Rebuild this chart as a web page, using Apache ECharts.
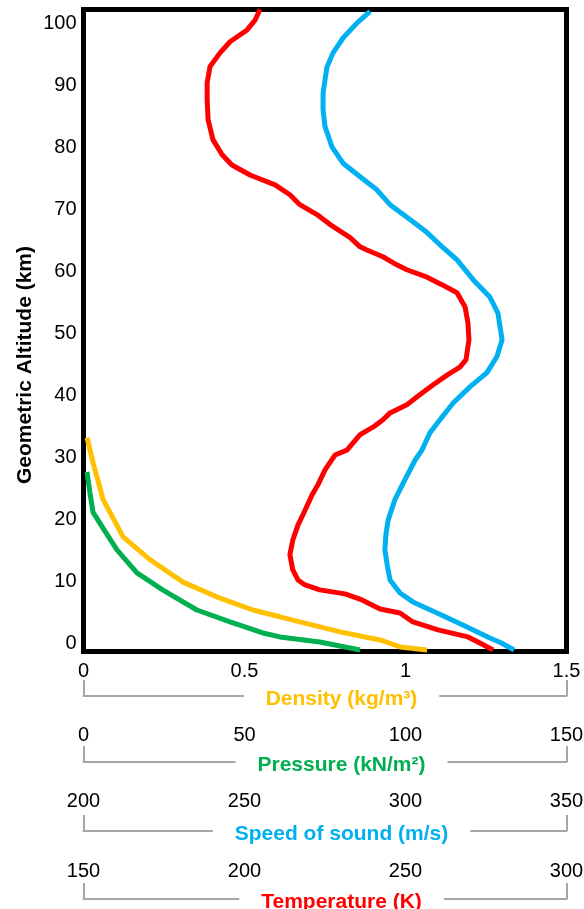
<!DOCTYPE html>
<html>
<head>
<meta charset="utf-8">
<script src="https://cdn.jsdelivr.net/npm/echarts@6/dist/echarts.min.js"></script>
<style>
  html, body { margin: 0; padding: 0; background: #fff; }
  #chart { width: 584px; height: 909px; }
</style>
</head>
<body>
<div id="chart"></div>
<script>
// ---- Data ----
// Temperature (K) vs altitude (km)
const tempAlt = [-1.05, 0.08, 1.05, 2.18, 3.47, 4.92, 5.57, 7.02, 8.0, 8.64, 9.44, 10.25, 11.86, 14.3, 16.7, 19.1, 21.5, 24.0, 25.6, 28.0, 30.4, 31.2, 33.7, 34.9, 36.1, 37.2, 38.5, 39.8, 41.7, 43.3, 44.6, 45.8, 49.0, 51.7, 54.3, 56.6, 57.9, 59.1, 60.3, 61.1, 62.4, 63.5, 64.0, 65.5, 67.6, 69.2, 70.8, 72.4, 74.0, 75.6, 77.2, 78.9, 81.3, 84.5, 87.7, 90.5, 93.1, 95.3, 97.1, 99.0, 100.6, 102.3];
const tempK = [277.2, 273.1, 269.4, 260.1, 252.3, 248.3, 242.1, 236.5, 231.2, 223.4, 218.8, 216.6, 215.0, 214.1, 215.0, 216.6, 218.8, 221.0, 222.8, 225.0, 228.1, 231.8, 235.9, 239.9, 243.0, 245.2, 250.4, 253.6, 258.5, 262.9, 266.9, 268.8, 269.7, 269.4, 268.5, 266.0, 261.3, 256.7, 250.4, 247.3, 243.0, 238.0, 235.9, 232.8, 226.6, 222.5, 217.2, 214.1, 209.5, 201.7, 196.1, 193.0, 190.2, 188.7, 188.4, 188.4, 189.3, 192.4, 195.5, 200.8, 203.3, 204.8];

// Speed of sound (m/s) vs altitude (km)
const soundAlt = [-1.05, 0.08, 0.89, 2.99, 4.92, 6.7, 8.15, 10.25, 12.7, 15.1, 17.5, 19.9, 23.2, 26.4, 29.6, 31.2, 34.0, 36.1, 38.8, 41.4, 43.7, 46.3, 49.0, 53.3, 55.9, 58.7, 61.9, 63.9, 66.3, 68.4, 70.8, 73.2, 75.3, 77.5, 80.1, 83.4, 86.1, 88.8, 93.0, 95.3, 97.7, 100.1, 102.0];
const soundMs = [333.7, 329.8, 326.2, 317.8, 309.8, 302.3, 298.3, 295.2, 294.3, 293.6, 293.9, 294.6, 296.7, 299.8, 303.0, 305.1, 307.6, 310.7, 314.8, 320.0, 325.3, 328.4, 330.0, 328.7, 326.2, 321.0, 316.0, 311.6, 306.7, 301.4, 295.2, 291.1, 285.9, 280.6, 277.2, 275.0, 274.4, 274.4, 275.6, 277.5, 280.6, 284.9, 289.0];

// Pressure (kN/m2) vs altitude (km)
const pressAlt = [-1.05, 0.24, 1.05, 1.69, 3.47, 5.4, 8.6, 11.4, 15.1, 18.6, 21.2, 24.3, 27.7];
const pressKN = [85.9, 73.4, 61.0, 55.7, 45.5, 35.2, 24.7, 16.6, 10.4, 6.06, 2.95, 2.0, 1.09];

// Density (kg/m3) vs altitude (km)
const densAlt = [-1.05, -0.56, 0.56, 0.89, 1.86, 3.47, 4.3, 5.4, 7.3, 9.9, 13.5, 17.2, 23.2, 29.1, 33.2];
const densKg = [1.067, 0.983, 0.921, 0.890, 0.797, 0.672, 0.610, 0.526, 0.424, 0.309, 0.207, 0.123, 0.061, 0.030, 0.011];

// Axis ticks
const altTicks = [0, 10, 20, 30, 40, 50, 60, 70, 80, 90, 100];

const FONT = 'Liberation Sans, Arial, Helvetica, sans-serif';
const pairs = (xs, ys) => xs.map((v, i) => [v, ys[i]]);

// Axis carrying the scale, the grey bracket and the tick labels
function scaleAxis(min, max, interval, offset, margin) {
  return {
    type: 'value', position: 'bottom', gridIndex: 0, z: 0,
    min: min, max: max, interval: interval, offset: offset,
    splitLine: { show: false },
    axisLine: { show: true, onZero: false, lineStyle: { color: '#a6a6a6', width: 2 } },
    axisTick: { show: true, inside: true, length: 16, customValues: [min, max], lineStyle: { color: '#a6a6a6', width: 2 } },
    axisLabel: { show: true, inside: true, margin: margin, color: '#000', fontSize: 20, fontFamily: FONT, showMinLabel: true, showMaxLabel: true }
  };
}

// Twin axis drawn above it, carrying only the coloured title (its white box cuts the bracket)
function titleAxis(min, max, offset, title, color) {
  return {
    type: 'value', position: 'bottom', gridIndex: 0, z: 6,
    min: min, max: max, offset: offset,
    splitLine: { show: false },
    axisLine: { show: false, onZero: false },
    axisTick: { show: false },
    axisLabel: { show: false },
    name: '{p| }{t|' + title + '}',
    nameLocation: 'middle',
    nameGap: -9,
    nameMoveOverlap: false,
    nameTextStyle: {
      fontFamily: FONT,
      rich: {
        p: { width: 33, fontSize: 21, fontFamily: FONT },
        t: { color: color, fontSize: 21, fontWeight: 'bold', fontFamily: FONT, backgroundColor: '#fff', padding: [2, 22] }
      }
    }
  };
}

const chart = echarts.init(document.getElementById('chart'), null, { renderer: 'canvas' });
chart.setOption({
  animation: false,
  backgroundColor: '#fff',
  textStyle: { fontFamily: FONT },
  grid: {
    left: 83.5, top: 9.5, right: 17.5, bottom: 257.5,
    show: true, borderColor: '#000', borderWidth: 5, backgroundColor: 'transparent',
    containLabel: false, outerBoundsMode: 'none'
  },
  xAxis: [
    scaleAxis(0, 1.5, 0.5, 44.5, 15),
    scaleAxis(0, 150, 50, 110.5, 17),
    scaleAxis(200, 350, 50, 179.5, 20),
    scaleAxis(150, 300, 50, 247.5, 18),
    titleAxis(0, 1.5, 44.5, 'Density (kg/m³)', '#FFC000'),
    titleAxis(0, 150, 110.5, 'Pressure (kN/m²)', '#00B050'),
    titleAxis(200, 350, 179.5, 'Speed of sound (m/s)', '#00B0F0'),
    titleAxis(150, 300, 247.5, 'Temperature (K)', '#FF0000')
  ],
  yAxis: {
    type: 'value', min: -1.3, max: 102.3,
    splitLine: { show: false },
    axisLine: { show: false },
    axisTick: { show: false },
    axisLabel: { customValues: altTicks, color: '#000', fontSize: 20, fontFamily: FONT, margin: 7 }
  },
  graphic: [{
    type: 'text', x: 25, y: 365, rotation: Math.PI / 2,
    style: { text: 'Geometric Altitude (km)', font: 'bold 21px ' + FONT, fill: '#000', align: 'center', verticalAlign: 'middle' }
  }],
  series: [
    { name: 'Temperature', type: 'line', xAxisIndex: 3, data: pairs(tempK, tempAlt), showSymbol: false, lineStyle: { color: '#FF0000', width: 5 }, itemStyle: { color: '#FF0000' } },
    { name: 'Speed of sound', type: 'line', xAxisIndex: 2, data: pairs(soundMs, soundAlt), showSymbol: false, lineStyle: { color: '#00B0F0', width: 5 }, itemStyle: { color: '#00B0F0' } },
    { name: 'Pressure', type: 'line', xAxisIndex: 1, data: pairs(pressKN, pressAlt), showSymbol: false, lineStyle: { color: '#00B050', width: 5 }, itemStyle: { color: '#00B050' } },
    { name: 'Density', type: 'line', xAxisIndex: 0, data: pairs(densKg, densAlt), showSymbol: false, lineStyle: { color: '#FFC000', width: 5 }, itemStyle: { color: '#FFC000' } }
  ]
});
</script>
</body>
</html>
